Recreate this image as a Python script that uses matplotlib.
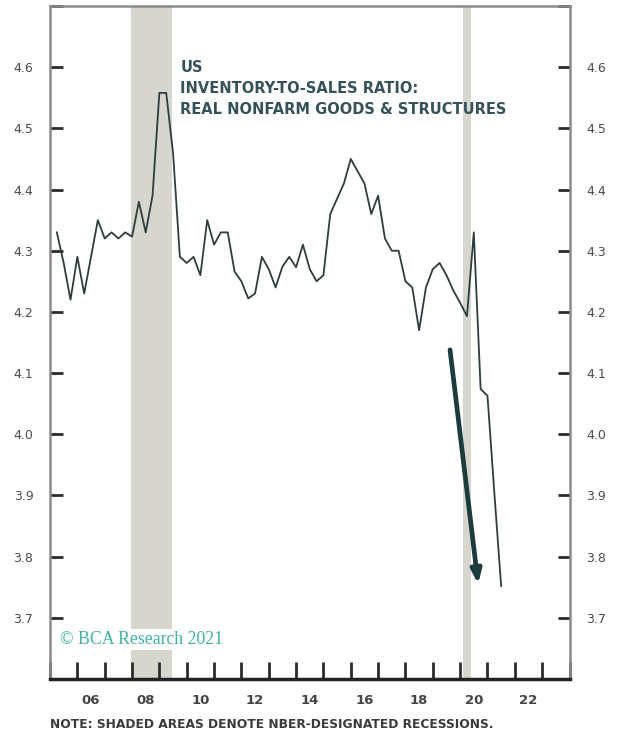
import matplotlib
matplotlib.use("Agg")
import matplotlib.pyplot as plt
import pandas as pd

# real nonfarm inventories / final sales of goods & structures, quarterly
quarters = pd.period_range("2005Q1", "2021Q2", freq="Q")
ratio = [
    4.33, 4.28, 4.22, 4.29,
    4.23, 4.29, 4.35, 4.32,
    4.33, 4.32, 4.33, 4.323,
    4.38, 4.33, 4.39, 4.558,
    4.558, 4.46, 4.29, 4.28,
    4.29, 4.26, 4.35, 4.31,
    4.33, 4.33, 4.266, 4.25,
    4.222, 4.23, 4.29, 4.27,
    4.24, 4.274, 4.29, 4.273,
    4.31, 4.27, 4.25, 4.26,
    4.36, 4.385, 4.41, 4.45,
    4.43, 4.41, 4.36, 4.39,
    4.32, 4.30, 4.30, 4.25,
    4.24, 4.17, 4.24, 4.27,
    4.28, 4.26, 4.235, 4.215,
    4.193, 4.33, 4.074, 4.063,
    3.905, 3.752,
]
recessions = [(2007.95, 2009.48), (2020.10, 2020.40)]
ytick_vals = [3.7, 3.8, 3.9, 4.0, 4.1, 4.2, 4.3, 4.4, 4.5, 4.6]
xlabel_years = [2006, 2008, 2010, 2012, 2014, 2016, 2018, 2020, 2022]
arrow_from = (2019.63, 4.138)
arrow_to = (2020.66, 3.755)

# plot at quarter-end
t = [q.year + q.quarter / 4 for q in quarters]

fig = plt.figure(figsize=(6.18, 7.34), dpi=100)
ax = fig.add_axes([50 / 618, 1 - 679 / 734, 519.5 / 618, 673 / 734])

for a, b in recessions:
    ax.axvspan(a, b, color="#d6d6ce", lw=0, zorder=0)

ax.plot(t, ratio, color="#2e3d3d", lw=1.3, zorder=3)

ax.annotate("", xy=arrow_to, xytext=arrow_from,
            arrowprops=dict(arrowstyle="-|>,head_length=0.8,head_width=0.3",
                            color="#1c3b3d", lw=3.4, shrinkA=0, shrinkB=0),
            zorder=4)

ax.set_xlim(2005, 2024)
ax.set_ylim(3.6, 4.7)

# y axis: labels on both sides, ticks pointing in
ax.set_yticks([3.6] + ytick_vals + [4.7])
ax.set_yticklabels([""] + [f"{v:.1f}" for v in ytick_vals] + [""])
ax.yaxis.set_ticks_position("both")
ax.tick_params(axis="y", direction="in", length=9, width=2, color="#2b2b2b",
               labelleft=True, labelright=True, labelsize=9,
               labelcolor="#4a4a4a", pad=12)

# x axis: yearly ticks, labels centred on the year
ax.set_xticks(range(2005, 2025))
ax.set_xticklabels([])
ax.set_xticks([y + 0.5 for y in xlabel_years], minor=True)
ax.set_xticklabels([f"{y % 100:02d}" for y in xlabel_years], minor=True)
ax.tick_params(axis="x", which="major", direction="in", length=12, width=2,
               color="#2b2b2b")
ax.tick_params(axis="x", which="minor", length=0, pad=11, labelsize=9.5,
               labelcolor="#444444")
for lbl in ax.get_xticklabels(minor=True):
    lbl.set_fontweight("bold")

for side in ["left", "right", "top"]:
    ax.spines[side].set_color("#8a8a8a")
    ax.spines[side].set_linewidth(1.8)
ax.spines["bottom"].set_color("#222222")
ax.spines["bottom"].set_linewidth(2.5)

ax.text(2009.77, 4.612, "US\nINVENTORY-TO-SALES RATIO:\nREAL NONFARM GOODS & STRUCTURES",
        color="#35525a", fontsize=10.5, fontweight="bold", va="top",
        ha="left", linespacing=1.52, zorder=5)

ax.text(2005.38, 3.665, "\u00a9 BCA Research 2021", color="#3fb3a3",
        fontsize=12.8, family="Liberation Serif", va="center", ha="left",
        zorder=2, bbox=dict(facecolor="white", edgecolor="none", pad=1.5))

fig.text(50 / 618, 1 - 724 / 734, "NOTE: SHADED AREAS DENOTE NBER-DESIGNATED RECESSIONS.",
         color="#3a3a3a", fontsize=8.8, fontweight="bold", va="center", ha="left")

fig.savefig("out.png", dpi=100)
